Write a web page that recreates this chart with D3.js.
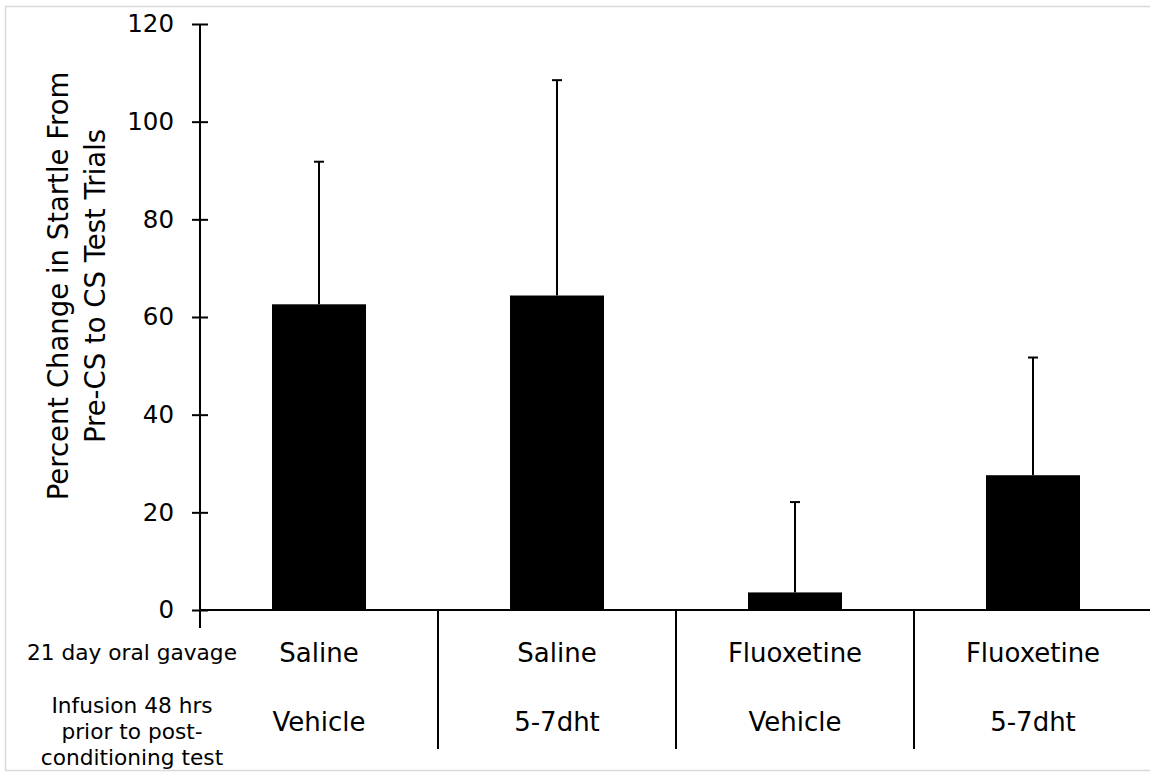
<!DOCTYPE html>
<html>
<head>
<meta charset="utf-8">
<script src="https://cdn.jsdelivr.net/npm/d3@7"></script>
<style>
  html, body { margin: 0; padding: 0; background: #fff; }
  svg { display: block; font-family: "DejaVu Sans", Verdana, sans-serif; }
</style>
</head>
<body>
<svg id="chart" width="1150" height="772"></svg>
<script>
// Groups, in drawing order
const groups = ["g1", "g2", "g3", "g4"];
// Mean percent change and upper error (SEM) top
const means = [62.6, 64.4, 3.6, 27.6];
const errorTops = [91.8, 108.5, 22.1, 51.7];
// Condition labels for the two table rows under the axis
const gavageLabels = ["Saline", "Saline", "Fluoxetine", "Fluoxetine"];
const infusionLabels = ["Vehicle", "5-7dht", "Vehicle", "5-7dht"];
const rowTitles = [["21 day oral gavage"], ["Infusion 48 hrs", "prior to post-", "conditioning test"]];
const yTicks = [0, 20, 40, 60, 80, 100, 120];
const yTitle = ["Percent Change in Startle From", "Pre-CS to CS Test Trials"];

const svg = d3.select("#chart");

// Outer frame
svg.append("rect")
  .attr("x", 5.5).attr("y", 6.5)
  .attr("width", 1150).attr("height", 764)
  .attr("fill", "none").attr("stroke", "#d9d9d9").attr("stroke-width", 1.5);

const x0 = 200, x1 = 1152, yTop = 24, yBase = 610;

const x = d3.scaleBand().domain(groups).range([x0, x1]).padding(0);
const y = d3.scaleLinear().domain([0, 120]).range([yBase, yTop]);
const barW = x.bandwidth() * 0.395;

// Bars
svg.append("g").selectAll("rect")
  .data(groups)
  .join("rect")
  .attr("x", (d) => x(d) + x.bandwidth() / 2 - barW / 2)
  .attr("width", barW)
  .attr("y", (d, i) => y(means[i]))
  .attr("height", (d, i) => y(0) - y(means[i]))
  .attr("fill", "#000");

// Upper error bars
const err = svg.append("g").attr("stroke", "#000").attr("stroke-width", 2);
groups.forEach((g, i) => {
  const cx = x(g) + x.bandwidth() / 2;
  err.append("line")
    .attr("x1", cx).attr("x2", cx)
    .attr("y1", y(means[i])).attr("y2", y(errorTops[i]));
  err.append("line")
    .attr("x1", cx - 5).attr("x2", cx + 5)
    .attr("y1", y(errorTops[i])).attr("y2", y(errorTops[i]));
});

// Y axis with ticks crossing the axis line
const yAxis = d3.axisLeft(y).tickValues(yTicks).tickSize(0).tickPadding(26);
const ya = svg.append("g").attr("transform", `translate(${x0},0)`).call(yAxis);
ya.select(".domain").remove();
ya.selectAll("text")
  .attr("font-size", 24.5).attr("fill", "#000")
  .attr("font-family", "DejaVu Sans, Verdana, sans-serif");
ya.selectAll(".tick").append("line")
  .attr("x1", -8).attr("x2", 8)
  .attr("stroke", "#000").attr("stroke-width", 2);
svg.append("line")
  .attr("x1", x0).attr("x2", x0)
  .attr("y1", y(120)).attr("y2", yBase + 18)
  .attr("stroke", "#000").attr("stroke-width", 2);

// Baseline
svg.append("line")
  .attr("x1", x0).attr("x2", 1150)
  .attr("y1", y(0)).attr("y2", y(0))
  .attr("stroke", "#000").attr("stroke-width", 2);

// Group dividers in the table
svg.append("g").selectAll("line")
  .data(groups.slice(1))
  .join("line")
  .attr("x1", (d) => x(d)).attr("x2", (d) => x(d))
  .attr("y1", yBase).attr("y2", 749)
  .attr("stroke", "#000").attr("stroke-width", 2);

// Table labels
const labelFont = 26;
svg.append("g").selectAll("text")
  .data(gavageLabels)
  .join("text")
  .attr("x", (d, i) => x(groups[i]) + x.bandwidth() / 2)
  .attr("y", 653)
  .attr("dy", "0.35em")
  .attr("text-anchor", "middle")
  .attr("font-size", labelFont)
  .text((d) => d);
svg.append("g").selectAll("text")
  .data(infusionLabels)
  .join("text")
  .attr("x", (d, i) => x(groups[i]) + x.bandwidth() / 2)
  .attr("y", 722)
  .attr("dy", "0.35em")
  .attr("text-anchor", "middle")
  .attr("font-size", labelFont)
  .text((d) => d);

// Row titles on the left
const rowY = [[652], [705, 731, 757]];
rowTitles.forEach((lines, r) => {
  lines.forEach((t, k) => {
    svg.append("text")
      .attr("x", 132).attr("y", rowY[r][k])
      .attr("dy", "0.35em")
      .attr("text-anchor", "middle")
      .attr("font-size", 21.7)
      .text(t);
  });
});

// Y axis title
const tt = svg.append("text")
  .attr("transform", "translate(0,286) rotate(-90)")
  .attr("text-anchor", "middle")
  .attr("font-size", 27.5);
yTitle.forEach((t, k) => {
  tt.append("tspan").attr("x", 0).attr("y", k === 0 ? 68 : 105).text(t);
});
</script>
</body>
</html>
